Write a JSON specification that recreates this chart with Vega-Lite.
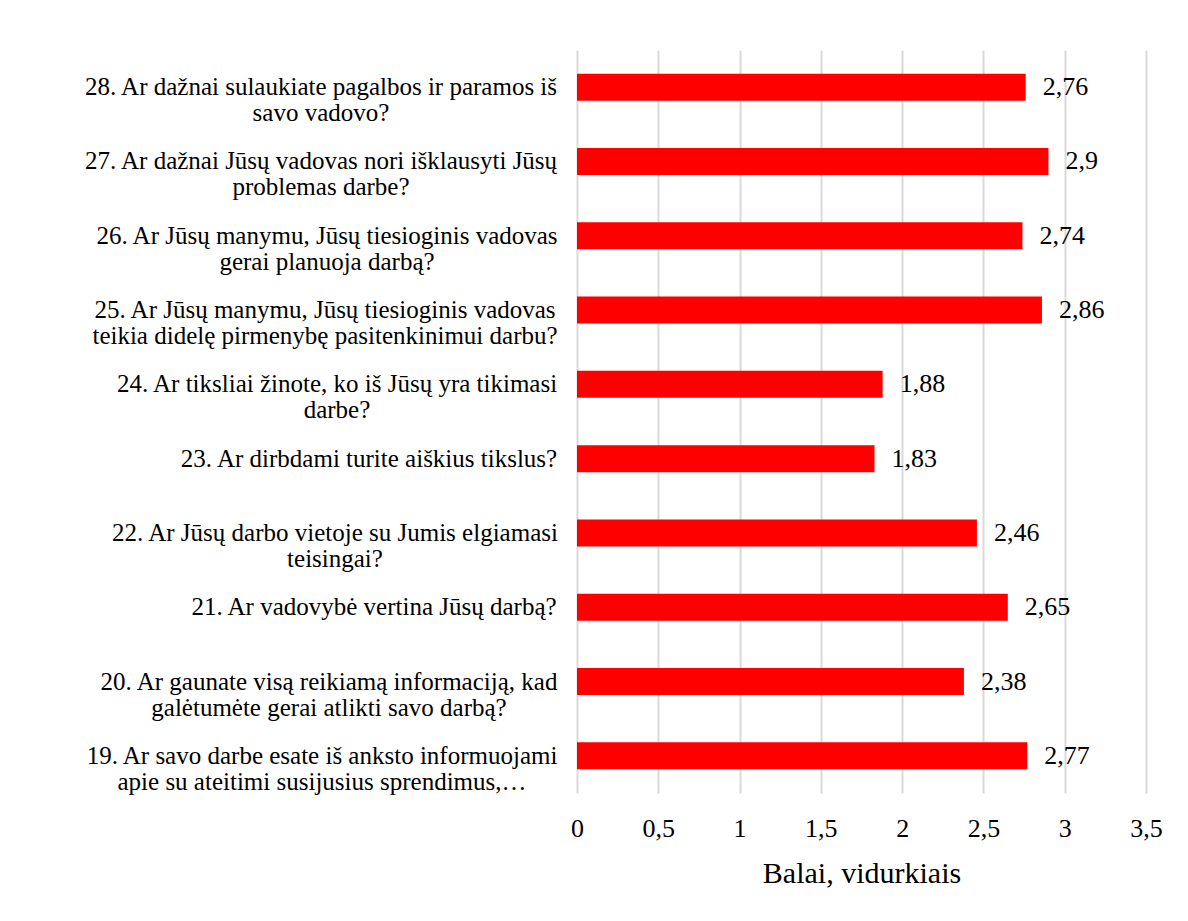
{
  "$schema": "https://vega.github.io/schema/vega-lite/v6.json",
  "width": 569,
  "height": 743,
  "autosize": "none",
  "padding": {"left": 577, "top": 50, "right": 42, "bottom": 128},
  "background": "white",
  "config": {
    "locale": {"number": {"decimal": ",", "thousands": " ", "grouping": [3], "currency": ["", " €"]}},
    "view": {"stroke": null},
    "font": "Liberation Serif"
  },
  "data": {
    "values": [
      {"id": "28", "q": "28. Ar dažnai sulaukiate pagalbos ir paramos iš|savo vadovo?", "v": 2.76},
      {"id": "27", "q": "27. Ar dažnai Jūsų vadovas nori išklausyti Jūsų|problemas darbe?", "v": 2.9},
      {"id": "26", "q": "26. Ar Jūsų manymu, Jūsų tiesioginis vadovas|gerai planuoja darbą?", "v": 2.74},
      {"id": "25", "q": "25. Ar Jūsų manymu, Jūsų tiesioginis vadovas|teikia didelę pirmenybę pasitenkinimui darbu?", "v": 2.86},
      {"id": "24", "q": "24. Ar tiksliai žinote, ko iš Jūsų yra tikimasi|darbe?", "v": 1.88},
      {"id": "23", "q": "23. Ar dirbdami turite aiškius tikslus?", "v": 1.83},
      {"id": "22", "q": "22. Ar Jūsų darbo vietoje su Jumis elgiamasi|teisingai?", "v": 2.46},
      {"id": "21", "q": "21. Ar vadovybė vertina Jūsų darbą?", "v": 2.65},
      {"id": "20", "q": "20. Ar gaunate visą reikiamą informaciją, kad|galėtumėte gerai atlikti savo darbą?", "v": 2.38},
      {"id": "19", "q": "19. Ar savo darbe esate iš anksto informuojami|apie su ateitimi susijusius sprendimus,…", "v": 2.77}
    ]
  },
  "encoding": {
    "y": {
      "field": "q",
      "type": "nominal",
      "sort": null,
      "scale": {"paddingInner": 0.636, "paddingOuter": 0.318},
      "axis": {
        "title": null,
        "labels": false,
        "domain": false,
        "ticks": false
      }
    }
  },
  "layer": [
    {
      "mark": {"type": "bar", "color": "#ff0000"},
      "encoding": {
        "x": {
          "field": "v",
          "type": "quantitative",
          "scale": {"domain": [0, 3.5], "nice": false, "zero": true},
          "axis": {
            "title": "Balai, vidurkiais",
            "titleFontSize": 30,
            "titleFontWeight": "normal",
            "titleColor": "black",
            "titlePadding": 17,
            "values": [0, 0.5, 1, 1.5, 2, 2.5, 3, 3.5],
            "format": "~g",
            "labelFontSize": 26,
            "labelColor": "black",
            "labelPadding": 22,
            "labelFlush": false,
            "grid": true,
            "gridColor": "#d9d9d9",
            "gridWidth": 2,
            "domain": false,
            "ticks": false
          }
        }
      }
    },
    {
      "mark": {"type": "text", "align": "left", "baseline": "middle", "dx": 17, "fontSize": 26, "color": "black"},
      "encoding": {
        "x": {"field": "v", "type": "quantitative"},
        "text": {"field": "v", "type": "quantitative", "format": "~g"}
      }
    },
    {
      "mark": {
        "type": "text",
        "align": "center",
        "baseline": "middle",
        "lineBreak": "|",
        "lineHeight": 26,
        "fontSize": 25,
        "color": "black",
        "dx": {"expr": "datum.id=='28' ? -256 : datum.id=='27' ? -256 : datum.id=='26' ? -250 : datum.id=='25' ? -252 : datum.id=='24' ? -240 : datum.id=='23' ? -208 : datum.id=='22' ? -242 : datum.id=='21' ? -203 : datum.id=='20' ? -248 : -255"}
      },
      "encoding": {
        "x": {"datum": 0, "type": "quantitative"},
        "text": {"field": "q", "type": "nominal"}
      }
    }
  ]
}
